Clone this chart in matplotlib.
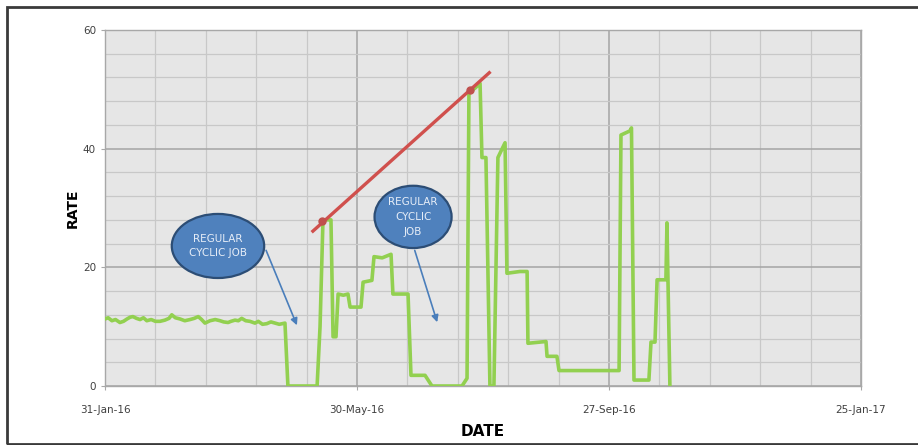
import numpy as np
import pandas as pd
import matplotlib
matplotlib.use("Agg")
import matplotlib.pyplot as plt
import matplotlib.dates as mdates
from matplotlib.patches import Ellipse, Rectangle

# Data (days after 31-Jan-16, rate)
START_DATE = "2016-01-31"
day_offsets = [
    0, 1.5, 3.3, 5, 7.1, 8.8, 10.5, 12, 13.3, 15, 16.7, 18.3, 19.9, 22, 24, 26.2,
    28.5, 30.5, 31.8, 33.5, 35.7, 38, 40.5, 42.5, 44.4, 46, 47.6, 50,
    52.5, 54.8, 56.5, 58.6, 60, 61.9, 63.5, 65.1, 67, 69, 71.4, 73, 75, 77, 79,
    81, 83, 85.7,
    87.1, 101, 102.4, 103.8, 107.6, 108.6, 110, 111, 113.5, 115.7, 116.7, 121.9,
    122.9, 127.1, 128.1, 132, 136.2, 137.1, 144.3, 145.7, 152.4, 155.7,
    170, 172.4, 173.3, 176.2, 178.6, 179.5, 181.4, 183.3, 185.2, 187.1, 190.5,
    191.4, 197.6, 201, 201.4, 210, 210.5, 215.2, 216.2, 244.8, 245.7, 250,
    250.7, 251.9, 259, 260, 261.9, 262.9, 267.1, 267.6, 268.1, 269,
]
rate_values = [
    11.3, 11.5, 11.0, 11.2, 10.7, 10.9, 11.3, 11.6, 11.7, 11.4, 11.2, 11.5, 11.0,
    11.2, 10.9, 10.9, 11.1, 11.4, 12.0, 11.5, 11.3, 11.0, 11.2, 11.4, 11.7, 11.2,
    10.6, 11.0, 11.2, 11.0, 10.8, 10.7, 10.9, 11.1, 11.0, 11.4, 11.0, 10.9, 10.6,
    10.9, 10.4, 10.5, 10.8, 10.6, 10.4, 10.6,
    0, 0, 10, 28, 28, 8.3, 8.3, 15.5, 15.3, 15.5, 13.3, 13.3,
    17.5, 17.8, 21.8, 21.6, 22.2, 15.5, 15.5, 1.8, 1.8, 0,
    0, 1.3, 49.5, 50.2, 51, 38.5, 38.5, 0, 0, 38.5, 41,
    19, 19.3, 19.3, 7.2, 7.5, 5, 5, 2.6, 2.6, 42.3, 43,
    43.5, 1, 1, 7.4, 7.4, 17.9, 17.9, 27.5, 17.5, 0,
]

# Trend line (red) and its two marked points
trend_days = [99, 183]
trend_values = [26.1, 52.8]
trend_mark_days = [103.3, 173.8]
trend_mark_values = [27.8, 49.9]

# Callouts: text, centre, size, arrow start and arrow end (days, rate)
callout_texts = ["REGULAR\nCYCLIC JOB", "REGULAR\nCYCLIC\nJOB"]
callout_centers = [(53.8, 23.6), (146.7, 28.5)]
callout_sizes = [(44, 10.8), (36.7, 10.5)]
arrow_starts = [(76.2, 23.3), (147.1, 23.3)]
arrow_ends = [(91.9, 9.8), (158.6, 10.3)]

x_tick_labels = ["31-Jan-16", "30-May-16", "27-Sep-16", "25-Jan-17"]
y_ticks = [0, 20, 40, 60]

plt.rcParams["font.family"] = ["Liberation Sans Narrow", "DejaVu Sans"]

start = pd.Timestamp(START_DATE)


def to_num(days):
    return mdates.date2num(start + pd.to_timedelta(np.asarray(days, dtype=float), unit="D"))


fig = plt.figure(figsize=(9.18, 4.45), dpi=100)
fig.patch.set_facecolor("white")
fig.patches.append(Rectangle((7 / 918, 1 / 445), 1.2, 437 / 445, transform=fig.transFigure,
                             fill=False, edgecolor="#3a3a3a", linewidth=2.0))

ax = fig.add_axes([105 / 918, 1 - 386 / 445, 756 / 918, 356 / 445])
ax.set_facecolor("#e6e6e6")

x0 = to_num([0])[0]
ax.set_xlim(x0, x0 + 360)
ax.set_ylim(0, 60)

major_x = [x0 + 120 * i for i in range(4)]
minor_x = [x0 + 24 * i for i in range(16)]
ax.set_xticks(major_x)
ax.set_xticklabels(x_tick_labels)
ax.set_xticks(minor_x, minor=True)
ax.set_yticks(y_ticks)
ax.set_yticks(np.arange(0, 61, 4), minor=True)

ax.grid(which="minor", color="#c8c8c8", linewidth=0.9)
ax.grid(which="major", color="#a4a4a4", linewidth=1.1)
ax.set_axisbelow(True)

for side in ["top", "right", "left", "bottom"]:
    ax.spines[side].set_color("#a8a8a8")
    ax.spines[side].set_linewidth(1.0)

ax.tick_params(axis="both", which="major", labelsize=7.5, colors="#404040", length=3,
               color="#a8a8a8")
ax.tick_params(axis="x", which="major", pad=11)
ax.tick_params(axis="both", which="minor", length=0)

ax.plot(to_num(day_offsets), rate_values, color="#92d050", linewidth=2.6, zorder=3)

ax.plot(to_num(trend_days), trend_values, color="#d0504d", linewidth=2.4, zorder=4)
ax.plot(to_num(trend_mark_days), trend_mark_values, "o", color="#c0504d",
        markersize=5, zorder=5)

for text, (cx, cy), (w, h), a0, a1 in zip(callout_texts, callout_centers, callout_sizes,
                                            arrow_starts, arrow_ends):
    ax.annotate("", xy=(to_num([a1[0]])[0], a1[1]), xytext=(to_num([a0[0]])[0], a0[1]),
                arrowprops=dict(arrowstyle="-|>", color="#4a7ebb", linewidth=1.2,
                                mutation_scale=10), zorder=6)
    ax.add_patch(Ellipse((to_num([cx])[0], cy), w, h, facecolor="#4f81bd",
                         edgecolor="#2c4d75", linewidth=1.6, zorder=7))
    ax.text(to_num([cx])[0], cy, text, ha="center", va="center", color="#e6edf7",
            fontsize=7.5, linespacing=1.6, zorder=8)

ax.set_ylabel("RATE", fontsize=10, fontweight="bold", color="black", labelpad=2,
              family=["DejaVu Sans"])
ax.set_xlabel("DATE", fontsize=11, fontweight="bold", color="black", labelpad=6)

fig.savefig("out.png", dpi=100)
